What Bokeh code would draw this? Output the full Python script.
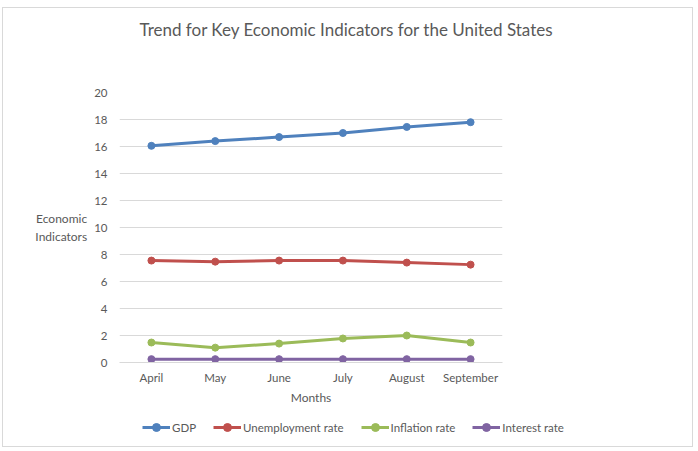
from bokeh.plotting import figure
from bokeh.models import Range1d, FixedTicker, Legend, LegendItem, Title
from bokeh.layouts import column
from bokeh.embed import file_html
from bokeh.resources import INLINE

months = ["April", "May", "June", "July", "August", "September"]
gdp = [16.05, 16.4, 16.7, 17.0, 17.45, 17.8]
unemployment = [7.55, 7.47, 7.55, 7.55, 7.4, 7.25]
inflation = [1.48, 1.1, 1.4, 1.78, 2.0, 1.48]
interest = [0.25, 0.25, 0.25, 0.25, 0.25, 0.25]
y_ticks = [0, 2, 4, 6, 8, 10, 12, 14, 16, 18, 20]

series = [
    ("GDP", gdp, "#4F81BD"),
    ("Unemployment rate", unemployment, "#C0504D"),
    ("Inflation rate", inflation, "#9BBB59"),
    ("Interest rate", interest, "#8064A2"),
]

FONT = "Lato"
TXT = "#595959"
GRID = "#D9D9D9"

# content origin in the picture: (3, 8)
X0, Y0 = 3, 8
W, H1, H2 = 689, 404, 34
FL, FT, FR, FB = 119 - X0, 92 - Y0, 502 - X0, 362 - Y0

p = figure(width=W, height=H1, output_backend="svg", toolbar_location=None,
           x_range=Range1d(-0.5, 5.5), y_range=Range1d(0, 20),
           min_border_left=FL, min_border_right=W - FR,
           min_border_top=FT, min_border_bottom=H1 - FB, title=None)
p.frame_align = False
p.outline_line_color = None
p.background_fill_color = "white"
p.border_fill_color = "white"

p.add_layout(Title(text=" ", text_font_size="2px", standoff=44), "above")
p.add_layout(Title(text="Trend for Key Economic Indicators for the United States",
                   align="left", offset=20, standoff=10,
                   text_font=FONT, text_font_size="17px", text_font_style="normal",
                   text_color=TXT), "above")

xs = list(range(len(months)))
for name, vals, col in series:
    p.line(xs, vals, line_color=col, line_width=3)
    p.scatter(xs, vals, marker="circle", size=7, fill_color=col, line_color=col)

p.xaxis.ticker = FixedTicker(ticks=xs)
p.xaxis.major_label_overrides = {i: m for i, m in enumerate(months)}
p.xaxis.axis_line_color = GRID
p.xaxis.major_tick_line_color = None
p.xaxis.minor_tick_line_color = None
p.xaxis.major_tick_out = 0
p.xaxis.major_label_standoff = 8
p.xaxis.axis_label = "Months"
p.xaxis.axis_label_standoff = 3

p.yaxis.ticker = FixedTicker(ticks=y_ticks)
p.yaxis.axis_line_color = None
p.yaxis.major_tick_line_color = None
p.yaxis.minor_tick_line_color = None
p.yaxis.major_tick_out = 0
p.yaxis.major_label_standoff = 12
p.yaxis.axis_label = "Economic\nIndicators"
p.yaxis.axis_label_orientation = "horizontal"
p.yaxis.axis_label_standoff = 4

for ax in (p.xaxis, p.yaxis):
    ax.major_label_text_font = FONT
    ax.major_label_text_font_size = "11.5px"
    ax.major_label_text_color = TXT
    ax.axis_label_text_font = FONT
    ax.axis_label_text_font_style = "normal"
    ax.axis_label_text_font_size = "12px"
    ax.axis_label_text_color = TXT

p.xgrid.grid_line_color = None
p.ygrid.grid_line_color = GRID
p.ygrid.grid_line_width = 1

# legend strip below the chart; its frame covers the whole strip (no frame
# alignment with the chart), and its series renderers lie outside its range
lg = figure(width=W, height=H2, output_backend="svg", toolbar_location=None,
            x_range=Range1d(100, 101), y_range=Range1d(100, 101),
            x_axis_type=None, y_axis_type=None,
            min_border_left=0, min_border_right=0, min_border_top=0, min_border_bottom=0)
lg.frame_align = False
lg.grid.visible = False
lg.outline_line_color = None
lg.background_fill_color = "white"
lg.border_fill_color = "white"

items = []
for name, vals, col in series:
    r1 = lg.line(xs, vals, line_color=col, line_width=3)
    r2 = lg.scatter(xs, vals, marker="circle", size=7, fill_color=col, line_color=col)
    items.append(LegendItem(label=name, renderers=[r1, r2]))

legend = Legend(items=items, orientation="horizontal", location=(142 - X0, 9),
                glyph_width=28, glyph_height=20, label_standoff=2, spacing=17,
                padding=0, margin=0, border_line_color=None,
                background_fill_alpha=0,
                label_text_font=FONT, label_text_font_size="11.5px",
                label_text_color=TXT)
lg.add_layout(legend, "center")

layout = column(p, lg, spacing=0, margin=(7, 0, 0, 2),
                styles={"border": "1px solid #D9D9D9"})

open("out.html", "w").write(file_html(layout, INLINE))
